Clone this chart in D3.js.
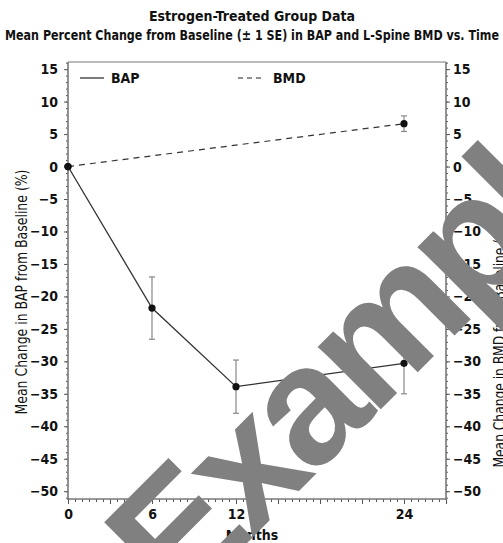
<!DOCTYPE html>
<html>
<head>
<meta charset="utf-8">
<script src="https://cdn.jsdelivr.net/npm/d3@7"></script>
<style>
  html, body { margin: 0; padding: 0; background: #fff; }
  svg { display: block; }
  text { font-family: "DejaVu Sans Condensed", "Liberation Sans Narrow", sans-serif; fill: #111; }
</style>
</head>
<body>
<svg id="chart" width="503" height="543"></svg>
<script>
  // values
  const months = [0, 6, 12, 24];
  const bapMean = [0, -21.8, -33.9, -30.3];
  const bapSE = [0, 4.8, 4.1, 4.7];
  const bmdMonths = [0, 24];
  const bmdMean = [0, 6.6];
  const bmdSE = [0, 1.2];
  const xTickLabels = [0, 6, 12, 24];
  const yTickLabels = [15, 10, 5, 0, -5, -10, -15, -20, -25, -30, -35, -40, -45, -50];

  const svg = d3.select("#chart");
  const plotL = 68, plotR = 446, plotT = 62, plotB = 499;

  const x = d3.scaleLinear().domain([0, 27]).range([plotL, plotR]);
  const y = d3.scaleLinear().domain([-51.2, 16.1]).range([plotB, plotT]);

  // titles
  svg.append("text").attr("x", 252).attr("y", 21).attr("text-anchor", "middle")
    .style("font-size", "14px").style("font-weight", "bold")
    .text("Estrogen-Treated Group Data");
  svg.append("text").attr("x", 252).attr("y", 40).attr("text-anchor", "middle")
    .style("font-size", "14px").style("font-weight", "bold")
    .attr("textLength", 494).attr("lengthAdjust", "spacingAndGlyphs")
    .text("Mean Percent Change from Baseline (\u00b1 1 SE) in BAP and L-Spine BMD vs. Time");

  // frame top line
  svg.append("line").attr("x1", plotL).attr("x2", plotR).attr("y1", plotT).attr("y2", plotT)
    .attr("stroke", "#777").attr("stroke-width", 1);

  const axisColor = "#777";
  const fmt = (d) => d < 0 ? "\u2212" + Math.abs(d) : d;

  // left axis
  const gL = svg.append("g").attr("transform", `translate(${plotL},0)`);
  gL.call(d3.axisLeft(y).tickValues(d3.range(-51, 17)).tickSize(2).tickFormat(""));
  gL.append("g").call(d3.axisLeft(y).tickValues(yTickLabels).tickSize(4).tickPadding(6).tickFormat(fmt));
  gL.selectAll(".domain").remove();
  gL.append("line").attr("y1", plotT).attr("y2", plotB + 1).attr("stroke", axisColor).attr("stroke-width", 1.6);

  // right axis
  const gR = svg.append("g").attr("transform", `translate(${plotR},0)`);
  gR.call(d3.axisRight(y).tickValues(d3.range(-51, 17)).tickSize(2).tickFormat(""));
  gR.append("g").call(d3.axisRight(y).tickValues(yTickLabels).tickSize(4).tickPadding(3).tickFormat(fmt));
  gR.selectAll(".domain").remove();
  gR.append("line").attr("y1", plotT).attr("y2", plotB + 1).attr("stroke", axisColor).attr("stroke-width", 1.6);

  // bottom axis
  const gB = svg.append("g").attr("transform", `translate(0,${plotB})`);
  gB.call(d3.axisBottom(x).tickValues(d3.range(0, 27.5, 0.5)).tickSize(3).tickFormat(""));
  gB.append("g").call(d3.axisBottom(x).tickValues(d3.range(0, 28, 3)).tickSize(5).tickPadding(5)
    .tickFormat((d) => xTickLabels.includes(d) ? d : ""));
  gB.selectAll(".domain").remove();
  gB.append("line").attr("x1", plotL - 1).attr("x2", plotR + 1).attr("stroke", axisColor).attr("stroke-width", 1.6);

  svg.selectAll(".tick line").attr("stroke", "#555");
  svg.selectAll(".tick text").style("font-size", "14px").style("font-weight", "bold")
    .style("font-family", "'DejaVu Sans Condensed', sans-serif").style("fill", "#111");

  // axis titles
  svg.append("text").attr("x", 252).attr("y", 540).attr("text-anchor", "middle")
    .style("font-size", "14px").style("font-weight", "bold").text("Months");
  svg.append("text").attr("transform", "translate(27,292) rotate(-90)").attr("text-anchor", "middle")
    .style("font-size", "15px").attr("textLength", 245).attr("lengthAdjust", "spacingAndGlyphs")
    .text("Mean Change in BAP from Baseline (%)");
  svg.append("text").attr("transform", "translate(505,345) rotate(-90)").attr("text-anchor", "middle")
    .style("font-size", "15px").attr("textLength", 245).attr("lengthAdjust", "spacingAndGlyphs")
    .text("Mean Change in BMD from Baseline (%)");

  // legend
  svg.append("line").attr("x1", 80).attr("x2", 104).attr("y1", 78).attr("y2", 78)
    .attr("stroke", "#222").attr("stroke-width", 1.2);
  svg.append("text").attr("x", 111).attr("y", 83).style("font-size", "14px").style("font-weight", "bold").text("BAP");
  svg.append("line").attr("x1", 238).attr("x2", 262).attr("y1", 78).attr("y2", 78)
    .attr("stroke", "#222").attr("stroke-width", 1.2).attr("stroke-dasharray", "5,4");
  svg.append("text").attr("x", 273).attr("y", 83).style("font-size", "14px").style("font-weight", "bold").text("BMD");

  const bap = months.map((m, i) => ({ m, v: bapMean[i], se: bapSE[i] }));
  const bmd = bmdMonths.map((m, i) => ({ m, v: bmdMean[i], se: bmdSE[i] }));

  // error bars
  function errorBars(data) {
    const g = svg.append("g").attr("stroke", "#888").attr("stroke-width", 1.2);
    data.filter((d) => d.se > 0).forEach((d) => {
      const cx = x(d.m);
      g.append("line").attr("x1", cx).attr("x2", cx).attr("y1", y(d.v + d.se)).attr("y2", y(d.v - d.se));
      g.append("line").attr("x1", cx - 3).attr("x2", cx + 3).attr("y1", y(d.v + d.se)).attr("y2", y(d.v + d.se));
      g.append("line").attr("x1", cx - 3).attr("x2", cx + 3).attr("y1", y(d.v - d.se)).attr("y2", y(d.v - d.se));
    });
  }
  errorBars(bap);
  errorBars(bmd);

  const line = d3.line().x((d) => x(d.m)).y((d) => y(d.v));
  svg.append("path").datum(bmd).attr("d", line).attr("fill", "none")
    .attr("stroke", "#333").attr("stroke-width", 1.2).attr("stroke-dasharray", "6,5");
  svg.append("path").datum(bap).attr("d", line).attr("fill", "none")
    .attr("stroke", "#333").attr("stroke-width", 1.3);

  svg.selectAll("circle.pt").data(bap.concat(bmd)).join("circle").attr("class", "pt")
    .attr("cx", (d) => x(d.m)).attr("cy", (d) => y(d.v)).attr("r", 3.6).attr("fill", "#111");

  // watermark
  svg.append("text").attr("transform", "translate(178,612) rotate(-45)")
    .style("font-family", "'Liberation Sans', Arial, sans-serif")
    .style("font-size", "168px").style("font-weight", "bold").style("letter-spacing", "-8px")
    .style("fill", "#808080").text("Example");
</script>
</body>
</html>
